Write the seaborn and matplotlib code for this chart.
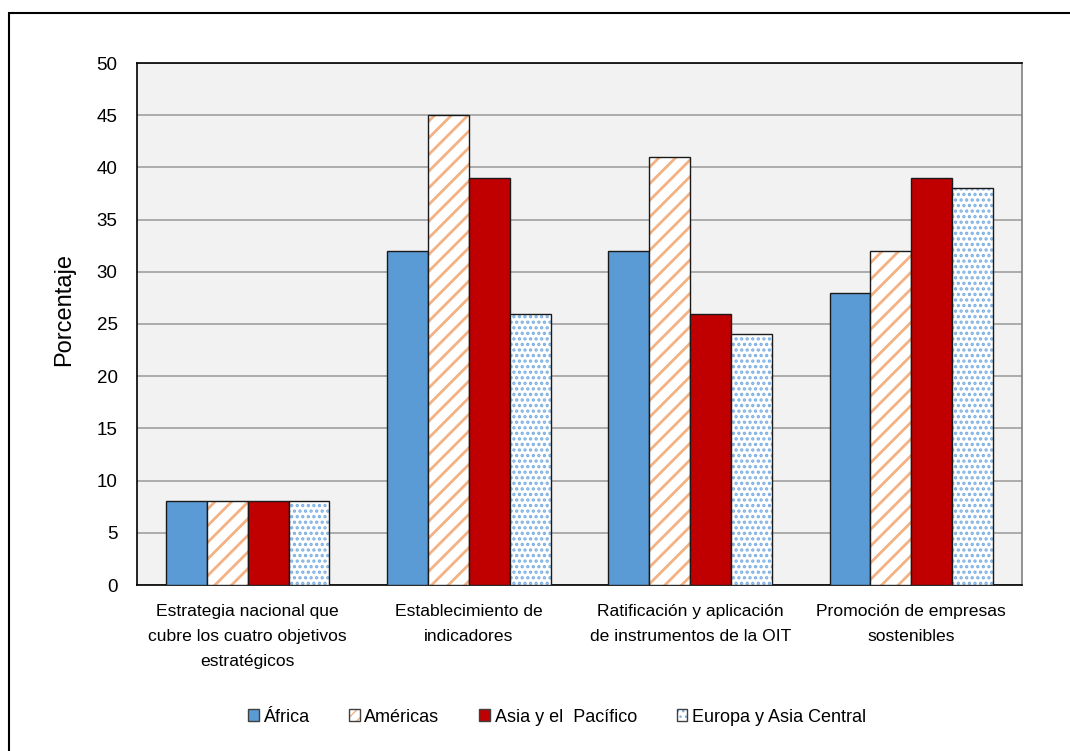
import pandas as pd
import seaborn as sns
from matplotlib import pyplot as plt
from matplotlib import patches as mpatches
from matplotlib.colors import to_rgba

categorias = ["Estrategia nacional que\ncubre los cuatro objetivos\nestratégicos",
              "Establecimiento de\nindicadores",
              "Ratificación y aplicación\nde instrumentos de la OIT",
              "Promoción de empresas\nsostenibles"]
regiones = ["África", "Américas", "Asia y el  Pacífico", "Europa y Asia Central"]
africa = [8, 32, 32, 28]
americas = [8, 45, 41, 32]
asia_pacifico = [8, 39, 26, 39]
europa_asia = [8, 26, 24, 38]
y_ticks = list(range(0, 55, 5))

# region style: face colour, hatch, hatch colour
estilos = {
    "África": ("#5B9BD5", None, None),
    "Américas": ("white", "//", "#F4B183"),
    "Asia y el  Pacífico": ("#C00000", None, None),
    "Europa y Asia Central": ("white", "...", "#7DB0E2"),
}

df = pd.DataFrame({
    "categoria": categorias * 4,
    "region": [r for r in regiones for _ in categorias],
    "valor": africa + americas + asia_pacifico + europa_asia,
})

sns.set_style("white")
plt.rcParams["font.family"] = ["Liberation Sans", "DejaVu Sans"]
plt.rcParams["text.color"] = "black"
plt.rcParams["xtick.color"] = "black"
plt.rcParams["ytick.color"] = "black"
plt.rcParams["axes.labelcolor"] = "black"

fig = plt.figure(figsize=(10.7, 7.51), dpi=100)
ax = fig.add_axes([137 / 1070, 1 - 585 / 751, (1022 - 137) / 1070, (585 - 63) / 751])
ax.set_facecolor("#F2F2F2")

sns.barplot(data=df, x="categoria", y="valor", hue="region", hue_order=regiones,
            palette=[estilos[r][0] for r in regiones], width=0.74,
            saturation=1, legend=False, ax=ax, zorder=3)


def estilo_patch(p, region, legend=False):
    color, hatch, hcolor = estilos[region]
    p.set_facecolor(color)
    p.set_edgecolor("#1a1a1a")
    p.set_linewidth(1.0)
    if hatch:
        if legend and "/" in hatch:
            hatch = "///"
        p.set_hatch(hatch)
        try:
            p.set_hatch_linewidth(2.0 if "/" in hatch else 1.6)
        except AttributeError:
            pass
        p._hatch_color = to_rgba(hcolor)


for cont, region in zip(ax.containers, regiones):
    for p in cont.patches:
        estilo_patch(p, region)

ax.set_ylim(0, 50)
ax.set_yticks(y_ticks)
ax.yaxis.grid(True, color="#A6A6A6", linewidth=1.3)
ax.set_axisbelow(True)
ax.tick_params(axis="x", length=0, labelsize=12.6, pad=14)
ax.tick_params(axis="y", length=0, labelsize=13.5, pad=14)
for lab in ax.get_xticklabels():
    lab.set_linespacing(1.8)
ax.set_xlabel("")
ax.set_ylabel("Porcentaje", fontsize=17)
ax.yaxis.set_label_coords(-0.07, 0.527)

for s in ["left", "top", "bottom"]:
    ax.spines[s].set_color("black")
    ax.spines[s].set_linewidth(1.2)
ax.spines["right"].set_color("#808080")
ax.spines["right"].set_linewidth(1.2)

handles = []
for r in regiones:
    h = mpatches.Patch(label=r)
    estilo_patch(h, r, legend=True)
    h.set_edgecolor("#404040")
    if estilos[r][1]:
        h._hatch_color = to_rgba(estilos[r][2])
    handles.append(h)
fig.legend(handles=handles, loc="center", bbox_to_anchor=(557 / 1070, 1 - 717 / 751),
           ncol=4, frameon=False, fontsize=13, handlelength=0.6, handleheight=0.6,
           handletextpad=0.25, columnspacing=2.2)

# outer chart border
fig.patches.append(mpatches.Rectangle((9 / 1070, -0.1), 1.2, 1.1 - 13 / 751, fill=False,
                                      edgecolor="black", linewidth=1.5,
                                      transform=fig.transFigure, figure=fig))

fig.savefig("out.png", dpi=100)
